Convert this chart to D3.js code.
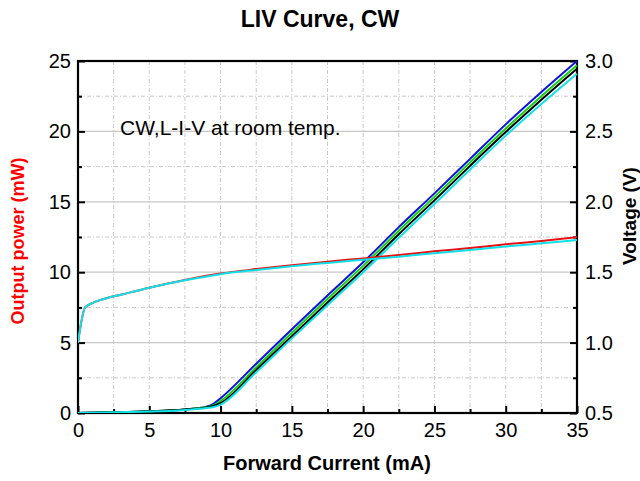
<!DOCTYPE html>
<html><head><meta charset="utf-8">
<script src="https://cdn.jsdelivr.net/npm/d3@7/dist/d3.min.js"></script>
<style>body{margin:0;background:#fff;}svg{display:block;font-family:"Liberation Sans",Arial,sans-serif;}</style>
</head><body><svg id="c" width="640" height="481"></svg>
<script>
// Data
const xTicks = [0,5,10,15,20,25,30,35];
const yLeftTicks = [0,5,10,15,20,25];
const yRightTicks = ["0.5","1.0","1.5","2.0","2.5","3.0"];
// Voltage curves (V) vs current (mA)
const vCurrent = [0,0.5,1,2,3,5,7.5,10,12.5,15,17.5,20,22.5,25,27.5,30,32.5,35];
const vRed     = [1.0,1.25,1.28,1.315,1.34,1.39,1.445,1.49,1.522,1.55,1.575,1.598,1.622,1.648,1.672,1.698,1.722,1.748];
const vCyan    = [1.0,1.25,1.28,1.315,1.34,1.39,1.443,1.486,1.516,1.543,1.566,1.588,1.61,1.635,1.658,1.682,1.705,1.728];
// Power curves (mW) vs current (mA)
const pCurrent = [0,2.5,5,7.5,9,9.5,10,12.5,15,17.5,20,22.5,25,27.5,30,32.5,35];
const pBlue  = [0,0.05,0.12,0.25,0.45,0.65,1.05,3.5,5.95,8.35,10.7,13.2,15.6,18.05,20.5,22.8,25.0];
const pGreen = [0,0.05,0.12,0.25,0.42,0.55,0.85,3.25,5.7,8.1,10.45,12.95,15.35,17.8,20.2,22.5,24.7];
const pBlack = [0,0.05,0.12,0.25,0.4,0.5,0.7,3.05,5.45,7.85,10.2,12.7,15.1,17.55,19.95,22.25,24.45];
const pCyan  = [0,0.05,0.1,0.22,0.35,0.42,0.6,2.9,5.3,7.65,10.0,12.45,14.85,17.3,19.7,21.95,24.1];

const svg = d3.select("#c");
const L=78, R=577, T=61, B=413;
const x = d3.scaleLinear().domain([0,35]).range([L,R]);
const yL = d3.scaleLinear().domain([0,25]).range([B,T]);
const yR = d3.scaleLinear().domain([0.5,3.0]).range([B,T]);

// grid
const g = svg.append("g");
d3.range(0,35.01,2.5).forEach(v=>{
  if(v===0||v===35) return;
  g.append("line").attr("x1",x(v)).attr("x2",x(v)).attr("y1",T).attr("y2",B)
   .attr("stroke","#c8c8c8").attr("stroke-width",1).attr("stroke-dasharray","4,2,1,2");
});
d3.range(0,25.01,2.5).forEach(v=>{
  if(v===0||v===25) return;
  const major = v%5===0;
  g.append("line").attr("x1",L).attr("x2",R).attr("y1",yL(v)).attr("y2",yL(v))
   .attr("stroke","#c8c8c8").attr("stroke-width",major?1.2:1)
   .attr("stroke-dasharray",major?null:"4,2,1,2");
});

// axes
const ax = svg.append("g").attr("transform",`translate(0,${B})`)
  .call(d3.axisBottom(x).tickValues(d3.range(0,35.01,2.5)).tickSize(-6).tickPadding(10).tickFormat(d=>d%5===0?d:""));
ax.selectAll(".tick line").attr("y2",d=>d%5===0?-7:-4);
const ayl = svg.append("g").attr("transform",`translate(${L},0)`)
  .call(d3.axisLeft(yL).tickValues(d3.range(0,25.01,2.5)).tickSize(-6).tickPadding(7).tickFormat(d=>d%5===0?d:""));
ayl.selectAll(".tick line").attr("x2",d=>d%5===0?7:4);
const ayr = svg.append("g").attr("transform",`translate(${R},0)`)
  .call(d3.axisRight(yR).tickValues(d3.range(0.5,3.001,0.25)).tickSize(-6).tickPadding(8)
  .tickFormat((d,i)=> i%2===0 ? yRightTicks[i/2] : ""));
ayr.selectAll(".tick line").attr("x2",(d,i)=>i%2===0?-7:-4);
[ax,ayl,ayr].forEach(a=>{
  a.selectAll(".domain").remove();
  a.selectAll(".tick line").attr("stroke","#000").attr("stroke-width",2);
  a.selectAll("text").attr("font-size",20).attr("fill","#000").attr("font-family","Liberation Sans, Arial, sans-serif");
});
ax.selectAll("text").attr("y",null).attr("dy",null).attr("transform","translate(0,24)");

// frame
svg.append("rect").attr("x",L).attr("y",T).attr("width",R-L).attr("height",B-T)
  .attr("fill","none").attr("stroke","#000").attr("stroke-width",2.2);

// curves
const clip = svg.append("defs").append("clipPath").attr("id","cp").append("rect")
  .attr("x",L).attr("y",T-2).attr("width",R-L+2).attr("height",B-T+2);
const cg = svg.append("g").attr("clip-path","url(#cp)");
const lineV = d3.line().x((d,i)=>x(vCurrent[i])).y(d=>yR(d)).curve(d3.curveMonotoneX);
const lineP = d3.line().x((d,i)=>x(pCurrent[i])).y(d=>yL(d)).curve(d3.curveMonotoneX);
[[pBlue,"#1010e0"],[pGreen,"#10d010"],[pBlack,"#000"],[pCyan,"#10e0e8"]].forEach(([d,c])=>{
  cg.append("path").attr("d",lineP(d)).attr("fill","none").attr("stroke",c).attr("stroke-width",2);
});
[[vRed,"#e81010"],[vCyan,"#10e0e8"]].forEach(([d,c])=>{
  cg.append("path").attr("d",lineV(d)).attr("fill","none").attr("stroke",c).attr("stroke-width",2);
});

// texts
svg.append("text").attr("x",320).attr("y",27).attr("text-anchor","middle")
  .attr("font-size",23).attr("font-weight","bold").text("LIV Curve, CW");
svg.append("text").attr("x",120).attr("y",135).attr("font-size",21).text("CW,L-I-V at room temp.");
svg.append("text").attr("x",327).attr("y",470).attr("text-anchor","middle")
  .attr("font-size",20).attr("font-weight","bold").text("Forward Current (mA)");
svg.append("text").attr("transform","translate(24,241) rotate(-90)").attr("text-anchor","middle")
  .attr("font-size",18).attr("font-weight","bold").attr("fill","#ff0000").text("Output power (mW)");
svg.append("text").attr("transform","translate(636,216) rotate(-90)").attr("text-anchor","middle")
  .attr("font-size",19).attr("font-weight","bold").text("Voltage (V)");
</script></body></html>
